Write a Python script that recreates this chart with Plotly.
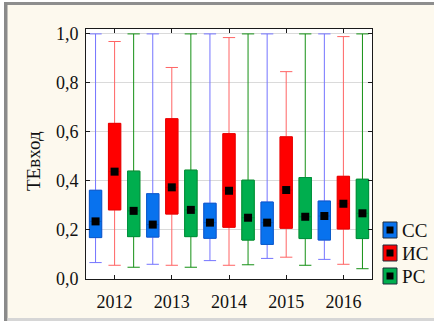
import plotly.graph_objects as go

# Data: technical efficiency (input-oriented) by year, per group
years = ["2012", "2013", "2014", "2015", "2016"]
groups = ["СС", "ИС", "РС"]

cc_min = [0.067, 0.060, 0.075, 0.084, 0.080]
cc_q1 = [0.169, 0.171, 0.166, 0.141, 0.159]
cc_med = [0.235, 0.222, 0.230, 0.230, 0.257]
cc_q3 = [0.362, 0.348, 0.309, 0.314, 0.318]
cc_max = [1.0, 1.0, 1.0, 1.0, 1.0]

ic_min = [0.056, 0.056, 0.056, 0.089, 0.060]
ic_q1 = [0.282, 0.265, 0.211, 0.207, 0.204]
ic_med = [0.438, 0.374, 0.360, 0.363, 0.307]
ic_q3 = [0.635, 0.654, 0.593, 0.580, 0.419]
ic_max = [0.969, 0.863, 0.985, 0.846, 0.989]

pc_min = [0.048, 0.048, 0.058, 0.056, 0.042]
pc_q1 = [0.173, 0.173, 0.159, 0.165, 0.165]
pc_med = [0.278, 0.282, 0.250, 0.254, 0.268]
pc_q3 = [0.440, 0.444, 0.403, 0.414, 0.407]
pc_max = [1.0, 1.0, 1.0, 1.0, 1.0]

y_ticks = [0.0, 0.2, 0.4, 0.6, 0.8, 1.0]
y_ticktext = ["0,0", "0,2", "0,4", "0,6", "0,8", "1,0"]

series = [
    (cc_min, cc_q1, cc_med, cc_q3, cc_max),
    (ic_min, ic_q1, ic_med, ic_q3, ic_max),
    (pc_min, pc_q1, pc_med, pc_q3, pc_max),
]
fills = ["#0872EE", "#FF0000", "#00AE4E"]
edges = ["#0B5CC8", "#E60000", "#00913F"]
whisk = ["#7474FF", "#FF6464", "#149014"]
offsets = [-0.333, 0.0, 0.333]
box_w = 0.215

FONT = "Liberation Serif"
W, H = 434, 325
L, R, T, B = 86, 62, 29, 46
PW, PH = W - L - R, H - T - B


def fx(px):
    return (px - L) / PW


def fy(py):
    return (H - B - py) / PH


fig = go.Figure()

for (lo, q1, med, q3, hi), fc, ec, wc, off in zip(series, fills, edges, whisk, offsets):
    xs = [i + off for i in range(len(years))]
    # whiskers with caps (min to max)
    fig.add_trace(go.Box(
        x=xs, q1=q1, median=med, q3=q3, lowerfence=lo, upperfence=hi,
        width=box_w, whiskerwidth=1, fillcolor="rgba(0,0,0,0)",
        line=dict(color=wc, width=1), boxpoints=False,
        hoverinfo="skip", showlegend=False,
    ))
    # solid interquartile body
    fig.add_trace(go.Box(
        x=xs, q1=q1, median=med, q3=q3, lowerfence=q1, upperfence=q3,
        width=box_w, whiskerwidth=0, fillcolor=fc,
        line=dict(color=ec, width=1), boxpoints=False,
        hoverinfo="skip", showlegend=False,
    ))
    # median point
    fig.add_trace(go.Scatter(
        x=xs, y=med, mode="markers",
        marker=dict(symbol="square", size=8, color="#000000"),
        hoverinfo="skip", showlegend=False,
    ))

shapes = []
# panel frame around the chart
shapes.append(dict(type="rect", xref="paper", yref="paper", layer="below",
                   x0=fx(0), x1=fx(W), y0=fy(0), y1=fy(2),
                   fillcolor="#FFFFFF", line=dict(width=0)))
shapes.append(dict(type="rect", xref="paper", yref="paper", layer="below",
                   x0=fx(0), x1=fx(4), y0=fy(0), y1=fy(H),
                   fillcolor="#FFFFFF", line=dict(width=0)))
shapes.append(dict(type="rect", xref="paper", yref="paper", layer="below",
                   x0=fx(0), x1=fx(W), y0=fy(321), y1=fy(H),
                   fillcolor="#FFFFFF", line=dict(width=0)))
shapes.append(dict(type="rect", xref="paper", yref="paper", layer="below",
                   x0=fx(4), x1=fx(W), y0=fy(2), y1=fy(5),
                   fillcolor="#8E8E8E", line=dict(width=0)))
shapes.append(dict(type="rect", xref="paper", yref="paper", layer="below",
                   x0=fx(4), x1=fx(7.5), y0=fy(2), y1=fy(321),
                   fillcolor="#8A8A8A", line=dict(width=0)))
shapes.append(dict(type="rect", xref="paper", yref="paper", layer="below",
                   x0=fx(7.5), x1=fx(W), y0=fy(318), y1=fy(321),
                   fillcolor="#D6D6D6", line=dict(width=0)))

annotations = []
# legend keys
key_y = [230, 253, 276]
for name, fc, ky in zip(groups, fills, key_y):
    shapes.append(dict(type="rect", xref="paper", yref="paper",
                       x0=fx(383), x1=fx(397), y0=fy(ky - 8), y1=fy(ky + 8),
                       fillcolor=fc, line=dict(color="#1E2A3A", width=1)))
    shapes.append(dict(type="rect", xref="paper", yref="paper",
                       x0=fx(386.5), x1=fx(393.5), y0=fy(ky - 3.5), y1=fy(ky + 3.5),
                       fillcolor="#000000", line=dict(width=0)))
    annotations.append(dict(text=name, xref="paper", yref="paper",
                            x=fx(400), y=fy(ky), xanchor="left", yanchor="middle",
                            showarrow=False,
                            font=dict(family=FONT, size=19, color="#111111")))

annotations.append(dict(text="TEвход", xref="paper", yref="paper",
                        x=fx(33), y=fy(161), textangle=-90,
                        xanchor="center", yanchor="middle", showarrow=False,
                        font=dict(family=FONT, size=19, color="#111111")))

fig.update_layout(
    width=W, height=H,
    margin=dict(l=L, r=R, t=T, b=B, pad=0),
    paper_bgcolor="#FDF9EE",
    plot_bgcolor="#FFFFFF",
    boxmode="overlay",
    showlegend=False,
    shapes=shapes,
    annotations=annotations,
    font=dict(family=FONT, size=18, color="#111111"),
)

fig.update_xaxes(
    range=[-0.5, len(years) - 0.5],
    tickvals=list(range(len(years))), ticktext=years,
    showgrid=False, zeroline=False,
    showline=True, linecolor="#1A1A1A", linewidth=1, mirror="ticks",
    ticks="inside", ticklen=4, tickcolor="#1A1A1A",
    tickfont=dict(family=FONT, size=18, color="#111111"),
    ticklabelstandoff=6,
)
fig.update_yaxes(
    range=[0, 1.02],
    tickvals=y_ticks, ticktext=y_ticktext,
    showgrid=True, gridcolor="#DADADA", gridwidth=1, zeroline=False,
    showline=True, linecolor="#1A1A1A", linewidth=1, mirror="ticks",
    ticks="inside", ticklen=4, tickcolor="#1A1A1A",
    tickfont=dict(family=FONT, size=18, color="#111111"),
    ticklabelstandoff=3,
)

fig.write_html("out.html")
